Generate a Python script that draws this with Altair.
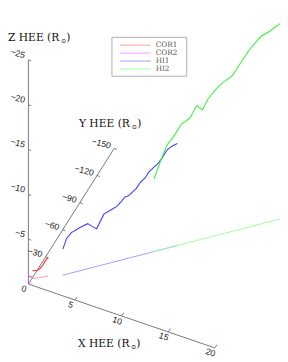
import altair as alt
import pandas as pd

# ---- values (HEE coordinates, solar radii) ----
series_names = ["COR1", "COR2", "HI1", "HI2"]
legend_colors = ["#ff9c9c", "#ff9cff", "#9c9cff", "#9cff9c"]
track_colors = ["#ff3333", "#ff33ff", "#3c3cff", "#3cf03c"]

cor1_x = [0.07, 0.44, 0.60, 0.84, 1.10, 1.30]
cor1_y = [-6.2, -8.5, -9.4, -10.7, -12.2, -13.5]
cor1_z = [-0.90, -0.85, -0.95, -1.25, -1.80, -2.10]

cor2_x = [0.00, 0.15, 0.32]
cor2_y = [-1.3, -1.7, -2.1]
cor2_z = [-0.70, -0.75, -0.60]

hi1_x = [2.54, 2.82, 3.17, 3.77, 4.37, 4.73, 5.03, 5.56, 6.04, 6.52, 6.88, 7.11,
         7.35, 7.95, 8.24, 8.62, 8.86, 9.26, 9.50, 9.86, 10.22, 10.58, 10.98]
hi1_y = [-18.83, -20.85, -23.50, -27.96, -32.36, -35.01, -37.29, -41.22, -44.72,
         -48.28, -50.93, -52.68, -54.48, -58.89, -61.01, -63.82, -65.62, -68.59,
         -70.40, -73.05, -75.70, -78.36, -81.33]
hi1_z = [-2.90, -3.99, -4.50, -4.81, -5.03, -4.56, -4.20, -5.62, -5.87, -6.12,
         -6.57, -6.94, -6.93, -7.53, -8.10, -8.49, -8.99, -9.43, -9.63, -10.20,
         -10.95, -11.24, -11.39]

hi2_x = [9.26, 9.74, 10.22, 10.69, 11.29, 11.65, 11.94, 12.41, 12.84, 13.20,
         13.68, 14.04, 14.27, 15.06, 15.59, 16.31, 17.14, 17.74, 18.57, 19.41]
hi2_y = [-68.59, -72.15, -75.70, -79.20, -83.66, -86.31, -88.44, -91.94, -95.12,
         -97.77, -101.33, -103.98, -105.73, -111.56, -115.49, -120.80, -126.95,
         -131.41, -137.56, -143.77]
hi2_z = [-8.10, -9.89, -11.51, -12.23, -13.43, -13.66, -13.91, -15.05, -14.39,
         -15.40, -16.12, -16.59, -16.79, -17.38, -18.44, -19.78, -20.90, -21.20,
         -21.79, -22.25]

x_ticks = [0, 5, 10, 15, 20]
y_ticks = [-30, -60, -90, -120, -150]
z_ticks = [-5, -10, -15, -20, -25]
x_max, y_min, z_min = 20, -150, -25

# ---- oblique 3-D projection onto the page ----
def sx_expr(s=""):
    return f"29 + 9.6*datum.X{s} - 0.5887*datum.Y{s}"

def sy_expr(s=""):
    return f"287 + 3.285*datum.X{s} + 0.9313*datum.Y{s} + 9.23*datum.Z{s}"

xs = alt.Scale(domain=[8, 288], nice=False, zero=False)
ys = alt.Scale(domain=[362, 8], nice=False, zero=False)

def XE(f="sx"):
    return alt.X(f"{f}:Q", scale=xs, axis=None)

def YE(f="sy"):
    return alt.Y(f"{f}:Q", scale=ys, axis=None)

AXIS_COL = "#777777"
TXT_COL = "#222222"
layers = []

# axes
seg = pd.DataFrame([
    dict(X=0, Y=0, Z=0, X2=x_max, Y2=0, Z2=0),
    dict(X=0, Y=0, Z=0, X2=0, Y2=y_min, Z2=0),
    dict(X=0, Y=0, Z=0, X2=0, Y2=0, Z2=z_min),
] + [dict(X=t, Y=0, Z=0, X2=t, Y2=-3.6, Z2=0) for t in x_ticks[1:]]
  + [dict(X=0, Y=t, Z=0, X2=0.3, Y2=t, Z2=0) for t in y_ticks]
  + [dict(X=0, Y=0, Z=t, X2=0.3, Y2=0, Z2=t) for t in z_ticks])
layers.append(
    alt.Chart(seg).transform_calculate(
        sx=sx_expr(), sy=sy_expr(), sx2=sx_expr("2"), sy2=sy_expr("2")
    ).mark_rule(color=AXIS_COL, strokeWidth=1).encode(
        x=XE(), y=YE(), x2=alt.X2("sx2:Q"), y2=alt.Y2("sy2:Q"))
)

# tick labels
lab_font = dict(font="Liberation Sans", fontSize=9, color=TXT_COL)
xdf = pd.DataFrame({"X": x_ticks, "Y": 0, "Z": 0, "t": x_ticks})
layers.append(
    alt.Chart(xdf).transform_calculate(
        sx=sx_expr() + " - 4.5", sy=sy_expr() + " + 4.8"
    ).mark_text(align="center", baseline="middle", angle=19, **lab_font).encode(
        x=XE(), y=YE(), text=alt.Text("t:Q", format="d"))
)
ydf = pd.DataFrame({"X": 0, "Y": y_ticks, "Z": 0, "t": y_ticks})
layers.append(
    alt.Chart(ydf).transform_calculate(
        sx=sx_expr() + " - 3.5", sy=sy_expr() + " - 2.5"
    ).mark_text(align="right", baseline="middle", angle=15, **lab_font).encode(
        x=XE(), y=YE(), text=alt.Text("t:Q", format="d"))
)
zdf = pd.DataFrame({"X": 0, "Y": 0, "Z": z_ticks, "t": z_ticks})
layers.append(
    alt.Chart(zdf).transform_calculate(
        sx=sx_expr() + " - 3.5", sy=sy_expr() + " - 4.7"
    ).mark_text(align="right", baseline="middle", angle=15, **lab_font).encode(
        x=XE(), y=YE(), text=alt.Text("t:Q", format="d"))
)

# axis titles  "? HEE (R_sun)"
def title(letter, px, py):
    out = []
    base = dict(font="DejaVu Serif", color="#111111", align="left", baseline="alphabetic")
    for txt, ox, oy, fs in [(f"{letter} HEE (R", 0, 0, 11), ("\u2299", 54.5, 2, 6.5), (")", 60, 0, 11)]:
        out.append(
            alt.Chart(pd.DataFrame({"sx": [px + ox], "sy": [py + oy]}))
            .mark_text(text=txt, fontSize=fs, **base)
            .encode(x=XE(), y=YE())
        )
    return out

layers += title("Z", 8, 37)
layers += title("Y", 81, 125.5)
layers += title("X", 80, 351.5)

# data: ground tracks (Z = 0) first, then the 3-D tracks
tracks = [
    ("COR1", cor1_x, cor1_y, cor1_z),
    ("COR2", cor2_x, cor2_y, cor2_z),
    ("HI1", hi1_x, hi1_y, hi1_z),
    ("HI2", hi2_x, hi2_y, hi2_z),
]
for kind in ["shadow", "track"]:
    for k, (name, tx, ty, tz) in enumerate(tracks):
        df = pd.DataFrame({"X": tx, "Y": ty, "Z": tz if kind == "track" else [0.0] * len(tz),
                           "i": list(range(len(tx)))})
        col = legend_colors[k] if kind == "shadow" else track_colors[k]
        layers.append(
            alt.Chart(df).transform_calculate(sx=sx_expr(), sy=sy_expr())
            .mark_line(color=col, strokeWidth=1.1 if kind == "track" else 1, clip=True)
            .encode(x=XE(), y=YE(), order="i:Q")
        )

# legend
box = pd.DataFrame({"sx": [115], "sx2": [192], "sy": [33], "sy2": [73]})
layers.append(
    alt.Chart(box).mark_rect(fill="white", stroke="#aaaaaa", strokeWidth=1).encode(
        x=XE(), x2=alt.X2("sx2:Q"), y=YE(), y2=alt.Y2("sy2:Q"))
)
leg = pd.DataFrame({"name": series_names, "color": legend_colors})
leg["sx"] = 123
leg["sx2"] = 155
leg["tx"] = 160
leg["sy"] = [41 + 8.2 * i for i in range(len(series_names))]
cscale = alt.Scale(domain=series_names, range=legend_colors)
layers.append(
    alt.Chart(leg).mark_rule(strokeWidth=1).encode(
        x=XE(), x2=alt.X2("sx2:Q"), y=YE(),
        color=alt.Color("name:N", scale=cscale, legend=None))
)
layers.append(
    alt.Chart(leg).mark_text(align="left", baseline="middle", font="DejaVu Serif",
                             fontSize=7.5, color="#555555").encode(
        x=XE("tx"), y=YE(), text="name:N")
)

chart = alt.layer(*layers).properties(
    width=280, height=354,
    autosize=alt.AutoSizeParams(type="none"),
    padding=0,
).configure_view(stroke=None)

chart.save("out.html", embed_options={"renderer": "svg", "actions": False})
